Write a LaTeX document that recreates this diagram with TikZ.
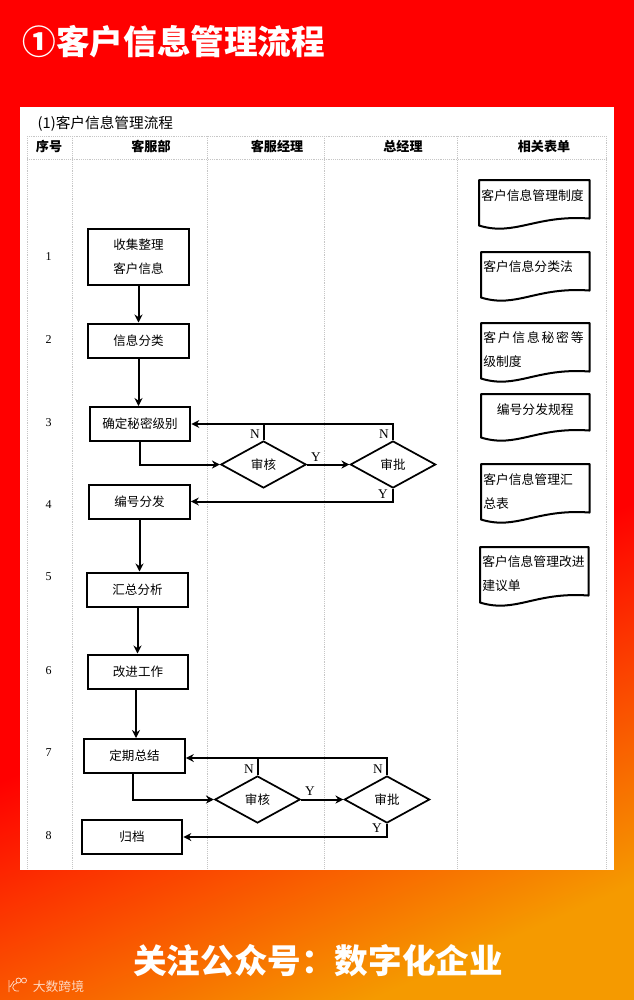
\documentclass[tikz,border=0pt]{standalone}
\usepackage{fontspec}
\setmainfont{Noto Sans CJK SC}
\newfontfamily\latinfont{Liberation Serif}
\usetikzlibrary{shapes.geometric, arrows.meta}
\definecolor{pagered}{HTML}{FF0000}
\definecolor{pageorange}{HTML}{F59A00}
\pgfdeclareverticalshading{pageshade}{100bp}{color(0bp)=(pageorange); color(23bp)=(pageorange); color(42.68bp)=(pagered); color(100bp)=(pagered)}
\tikzstyle{process} = [rectangle, draw, line width=1.5pt, minimum width=75.5pt, minimum height=25.5pt, inner sep=0pt, align=center, font=\fontsize{9.4}{18}\selectfont]
\tikzstyle{decision} = [diamond, draw, line width=1.3pt, aspect=1.81, minimum width=64pt, minimum height=35.25pt, inner sep=0pt, font=\fontsize{9.4}{12}\selectfont]
\tikzstyle{form} = [rectangle, anchor=north west, inner xsep=1.5pt, inner ysep=0pt, text width=78pt, align=left, font=\fontsize{9.6}{18}\selectfont]
\tikzstyle{formline} = [line width=1.5pt, line join=round]
\tikzstyle{head} = [font=\bfseries\fontsize{9.8}{12}\selectfont]
\tikzstyle{rownum} = [font=\latinfont\fontsize{9}{11}\selectfont]
\tikzstyle{flag} = [font=\latinfont\fontsize{10}{12}\selectfont]
\tikzstyle{grid} = [densely dotted, line width=0.4pt, gray!45]
\tikzstyle{banner} = [text=white, font=\bfseries\fontsize{25.2}{30}\selectfont]
\tikzstyle{link} = [line width=1.5pt]
\tikzstyle{arrow} = [link,-{Stealth[length=6pt,width=6pt]}]
\begin{document}
\begin{tikzpicture}[x=0.75pt,y=-0.75pt]
    \useasboundingbox (0,0) rectangle (634,1000);
    \shade [shading=pageshade, shading angle=23.75] (0,0) rectangle (634,1000);
    \fill [white] (20,107) rectangle (614,870);
    \node [banner, anchor=west] at (18,42) (title) {①客户信息管理流程};
    \node [banner] at (318,961) (follow) {关注公众号：数字化企业};
    \node [text=white, opacity=0.75, font=\fontsize{9.6}{12}\selectfont] at (58.5,987) (brand) {大数跨境};
    \draw [white, opacity=0.75, line width=0.6pt] (9,980) -- (9,992) (17,983) .. controls (11,984) and (11,992) .. (19,991) (10,987) -- (14,981) (18.5,980.5) circle (2.5) (24,980.5) circle (2.5);

    \node [anchor=west, font=\fontsize{11}{13}\selectfont] at (33,124) (caption) {(1)客户信息管理流程};
    \draw [grid] (27,136) -- (606,136) (27,159) -- (606,159);
    \foreach \x in {27,72,207,324,457,606}
        \draw [grid] (\x,136) -- (\x,868);
    \node [head] at (49,146) (headno) {序号};
    \node [head] at (151,146) (headdept) {客服部};
    \node [head] at (277,146) (headmgr) {客服经理};
    \node [head] at (403,146) (headgm) {总经理};
    \node [head] at (544,147) (headform) {相关表单};

    \node [rownum] at (48.5,257) (no1) {1};
    \node [rownum] at (48.5,340) (no2) {2};
    \node [rownum] at (48.5,423) (no3) {3};
    \node [rownum] at (48.5,505) (no4) {4};
    \node [rownum] at (48.5,577) (no5) {5};
    \node [rownum] at (48.5,671) (no6) {6};
    \node [rownum] at (48.5,753) (no7) {7};
    \node [rownum] at (48.5,836) (no8) {8};

    \node [process, minimum height=42pt] at (138.5,256.5) (collect) {收集整理\\客户信息};
    \node [process] at (138.5,340.5) (classify) {信息分类};
    \node [process] at (140,424) (level) {确定秘密级别};
    \node [process] at (139.5,501.5) (number) {编号分发};
    \node [process] at (137.5,589.5) (summary) {汇总分析};
    \node [process] at (138,671.5) (improve) {改进工作};
    \node [process] at (134.5,756) (review) {定期总结};
    \node [process] at (132,837) (archive) {归档};
    \node [decision] at (263.5,464.5) (check1) {审核};
    \node [decision] at (393,464.5) (approve1) {审批};
    \node [decision] at (257.5,799.5) (check2) {审核};
    \node [decision] at (387,799.5) (approve2) {审批};
    \coordinate (reviewin) at ([yshift=-1.5pt]review.east);

    \draw [arrow] (collect) -- (classify);
    \draw [arrow] (classify.south) -- (classify.south |- level.north);
    \draw [arrow] (level.south) |- (check1);
    \draw [arrow] (check1) -- (approve1);
    \draw [arrow] (approve1.north) |- (level.east);
    \draw [link] (check1.north) -- (check1.north |- level.east);
    \draw [arrow] (approve1.south) |- (number.east);
    \draw [arrow] (number.south) -- (number.south |- summary.north);
    \draw [arrow] (summary.south) -- (summary.south |- improve.north);
    \draw [arrow] ([xshift=-1.5pt]improve.south) -- ([xshift=-1.5pt]improve.south |- review.north);
    \draw [arrow] ([xshift=-1pt]review.south) |- (check2);
    \draw [arrow] (check2) -- (approve2);
    \draw [arrow] (approve2.north) |- (reviewin);
    \draw [link] (check2.north) -- (check2.north |- reviewin);
    \draw [arrow] (approve2.south) |- (archive.east);

    \node [flag] at (255,434) (no1a) {N};
    \node [flag] at (384,434) (no1b) {N};
    \node [flag] at (316,457) (yes1a) {Y};
    \node [flag] at (383,494) (yes1b) {Y};
    \node [flag] at (249,769) (no2a) {N};
    \node [flag] at (378,769) (no2b) {N};
    \node [flag] at (310,791) (yes2a) {Y};
    \node [flag] at (377,828) (yes2b) {Y};

    \node [form, text width=79.5pt, text height=15pt, text depth=18.75pt] at (479,180) (form1) {客户信息管理制度};
    \node [form, text height=14.25pt, text depth=19.5pt] at (481,252) (form2) {客户信息分类法};
    \node [form, text height=14.25pt, text depth=27pt] at (481,323) (form3) {{\addfontfeature{LetterSpace=14}客户信息秘密等}\\级制度};
    \node [form, text height=15pt, text depth=17.25pt, align=center] at (481,394) (form4) {编号分发规程};
    \node [form, text height=15pt, text depth=26.25pt] at (481,464) (form5) {客户信息管理汇\\总表};
    \node [form, text height=14.25pt, text depth=27pt] at (480,547) (form6) {客户信息管理改进\\建议单};
    \foreach \f in {form1,form2,form3,form4,form5,form6}
        \draw [formline] (\f.south west) .. controls +(36,11) and +(-54,-4) .. ([yshift=5.25pt]\f.south east) -- (\f.north east) -- (\f.north west) -- cycle;
\end{tikzpicture}
\end{document}
